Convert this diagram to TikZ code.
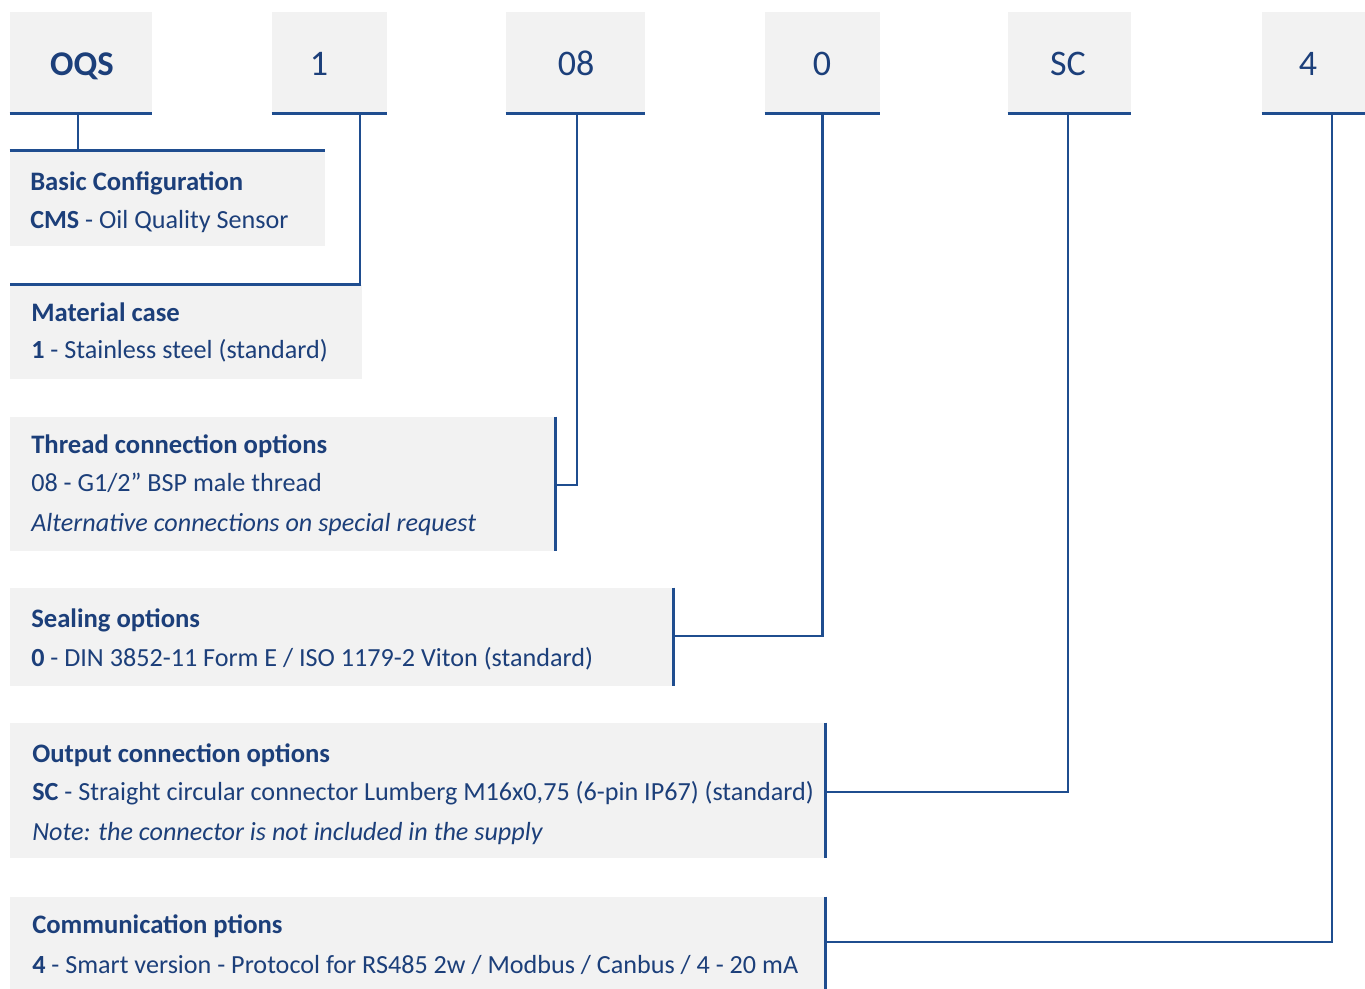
\documentclass[tikz,border=0pt]{standalone}
\usepackage{fontspec}
\setmainfont{Carlito}
\usetikzlibrary{fit}
\definecolor{navy}{HTML}{1C3F7A}
\definecolor{linec}{HTML}{1F4D8F}
\definecolor{boxgray}{HTML}{F2F2F2}
\tikzset{
  codebox/.style={fill=boxgray, inner sep=0pt, draw=none},
  descbox/.style={fill=boxgray, inner sep=0pt, draw=none},
  codetext/.style={text=navy, font=\fontsize{27}{27}\selectfont, inner sep=0pt, anchor=base},
  codebold/.style={codetext, font=\fontsize{26}{26}\selectfont\bfseries},
  head/.style={text=navy, font=\fontsize{20}{20}\selectfont\bfseries, anchor=base west, inner sep=0pt},
  body/.style={text=navy, font=\fontsize{19.6}{20}\selectfont, anchor=base west, inner sep=0pt},
  conn/.style={draw=linec, line width=2.2pt},
}
\begin{document}
\begin{tikzpicture}[x=0.75pt, y=-0.75pt]
\useasboundingbox (0,0) rectangle (1365,989);
\clip (0,0) rectangle (1365,989);
% code boxes
\node[codebox, fit={(10,12) (152,113)}] (cOQS) {};
\node[codebox, fit={(272,12) (387,113)}] (c1) {};
\node[codebox, fit={(506,12) (645,113)}] (c08) {};
\node[codebox, fit={(765,12) (880,113)}] (c0) {};
\node[codebox, fit={(1008,12) (1131,113)}] (cSC) {};
\node[codebox, fit={(1262,12) (1402,113)}] (c4) {};
\node[codebold] at (82,75) {OQS};
\node[codetext] at (319,75) {1};
\node[codetext] at (576,75) {08};
\node[codetext] at (822,75) {0};
\node[codetext] at (1068,75) {SC};
\node[codetext] at (1308,75) {4};
% description boxes
\node[descbox, fit={(10,151) (325,246)}] (dBasic) {};
\node[descbox, fit={(10,285) (362,379)}] (dMat) {};
\node[descbox, fit={(10,417) (555,551)}] (dThr) {};
\node[descbox, fit={(10,588) (673,686)}] (dSeal) {};
\node[descbox, fit={(10,723) (825,858)}] (dOut) {};
\node[descbox, fit={(10,897) (825,1010)}] (dCom) {};
% texts
\node[head] at (30,190) {Basic Configuration};
\node[body] at (30,228) {\textbf{CMS} - Oil Quality Sensor};
\node[head] at (31,321) {Material case};
\node[body] at (31,358) {\textbf{1} - Stainless steel (standard)};
\node[head] at (31,453) {Thread connection options};
\node[body] at (31,491) {08 - G1/2" BSP male thread};
\node[body] at (31,531) {\itshape Alternative connections on special request};
\node[head] at (31,627) {Sealing options};
\node[body] at (31,666) {\textbf{0} - DIN 3852-11 Form E / ISO 1179-2 Viton (standard)};
\node[head] at (32,762) {Output connection options};
\node[body] at (32,800) {\textbf{SC} - Straight circular connector Lumberg M16x0,75 (6-pin IP67) (standard)};
\node[body] at (32,840) {\itshape Note: the connector is not included in the supply};
\node[head] at (32,933) {Communication ptions};
\node[body] at (32,973) {\textbf{4} - Smart version - Protocol for RS485 2w / Modbus / Canbus / 4 - 20 mA};
% underlines of code boxes
\foreach \n in {cOQS,c1,c08,c0,cSC,c4} \draw[conn] (\n.south west) -- (\n.south east);
% connectors
\coordinate (jOQS) at (78,113);
\draw[conn] (dBasic.north west) -- (dBasic.north east);
\draw[conn] (cOQS.south -| jOQS) -- (dBasic.north -| jOQS);
\coordinate (j1) at (360,113);
\draw[conn] (c1.south -| j1) -- (dMat.north -| j1) -- (dMat.north west);
\coordinate (j08) at (577,113);
\draw[conn] (dThr.north east) -- (dThr.south east);
\draw[conn] (c08.south -| j08) -- (j08 |- 0,485) -- (dThr.east |- 0,485);
\draw[conn] (dSeal.north east) -- (dSeal.south east);
\draw[conn] (c0.south) -- (c0.south |- 0,636) -- (dSeal.east |- 0,636);
\draw[conn] (dOut.north east) -- (dOut.south east);
\coordinate (jSC) at (1068,113);
\draw[conn] (cSC.south -| jSC) -- (jSC |- 0,792) -- (dOut.east |- 0,792);
\draw[conn] (dCom.north east) -- (dCom.south east);
\coordinate (j4) at (1332,113);
\draw[conn] (c4.south -| j4) -- (j4 |- 0,942) -- (dCom.east |- 0,942);
\end{tikzpicture}
\end{document}
